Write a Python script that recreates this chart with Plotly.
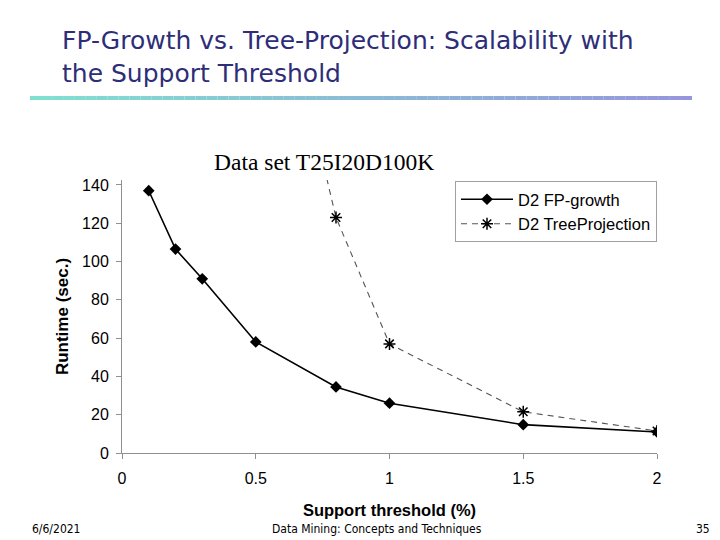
import plotly.graph_objects as go

# Data
fp_x = [0.1, 0.2, 0.3, 0.5, 0.8, 1.0, 1.5, 2.0]
fp_y = [137, 106.5, 91, 58, 34.5, 26, 14.8, 11]
tp_x = [0.5, 0.8, 1.0, 1.5, 2.0]
tp_y = [300, 123, 57, 21.5, 11.5]
x_ticks = [0, 0.5, 1, 1.5, 2]
x_tick_labels = ["0", "0.5", "1", "1.5", "2"]
y_ticks = [0, 20, 40, 60, 80, 100, 120, 140]

# page body offset compensation
OX, OY = 8, 8
W, H = 720 - OX, 540 - OY
# plot area in reference pixels
PL, PR, PT, PB = 122, 657, 180, 453
L, R, T, B = PL - OX, W - (PR - OX), PT - OY, H - (PB - OY)
PW, PH = PR - PL, PB - PT


def px(x):
    return (x - PL) / PW


def py(y):
    return (PB - y) / PH


fig = go.Figure()
fig.add_trace(go.Scatter(
    x=fp_x, y=fp_y, mode="lines+markers", name="D2 FP-growth",
    line=dict(color="black", width=1.6),
    marker=dict(symbol="diamond", size=9, color="black"),
))
fig.add_trace(go.Scatter(
    x=tp_x, y=tp_y, mode="lines+markers", name="D2 TreeProjection",
    line=dict(color="#555555", width=1.1, dash="6px,5px"),
    marker=dict(symbol="asterisk-open", size=10, color="black", line=dict(color="black", width=1.5)),
))

axis_title_font = dict(family="Liberation Sans, Arial", size=16.5, color="black")
fig.update_layout(
    width=W, height=H,
    margin=dict(l=L, r=R, t=T, b=B, pad=0),
    paper_bgcolor="white", plot_bgcolor="white",
    showlegend=True,
    legend=dict(
        x=px(455), y=py(181),
        xanchor="left", yanchor="top",
        bordercolor="#a0a0a0", borderwidth=1, bgcolor="white",
        font=dict(family="Liberation Sans, Arial", size=16.5, color="black"),
        itemwidth=52,
    ),
    xaxis=dict(
        range=[0, 2], tickvals=x_ticks, ticktext=x_tick_labels,
        showgrid=False, zeroline=False, showline=True, linecolor="#909090", linewidth=1,
        ticks="outside", ticklen=5, tickcolor="#909090", ticklabelstandoff=6,
        tickfont=dict(family="Liberation Sans, Arial", size=16, color="black"),
        title=dict(text="<b>Support threshold (%)</b>", standoff=18, font=axis_title_font),
    ),
    yaxis=dict(
        range=[0, 142.6], tickvals=y_ticks,
        showgrid=False, zeroline=False, showline=True, linecolor="#909090", linewidth=1,
        ticks="outside", ticklen=5, tickcolor="#909090", ticklabelstandoff=4,
        tickfont=dict(family="Liberation Sans, Arial", size=16, color="black"),
        title=dict(text="<b>Runtime (sec.)</b>", standoff=9, font=dict(axis_title_font, size=17)),
    ),
)

title_font = dict(family="DejaVu Sans, Noto Sans", size=25, color="#2e2e78")
fig.add_annotation(text="FP-Growth vs. Tree-Projection: Scalability with", xref="paper", yref="paper",
                   x=px(60), y=py(40), xanchor="left", yanchor="middle", showarrow=False, font=title_font)
fig.add_annotation(text="the Support Threshold", xref="paper", yref="paper",
                   x=px(60), y=py(73), xanchor="left", yanchor="middle", showarrow=False, font=title_font)

# gradient rule under the title
n = 60
x0, x1 = 30, 692
c0 = (128, 224, 208)
c1 = (150, 150, 220)
for i in range(n):
    t = i / (n - 1)
    col = "rgb(%d,%d,%d)" % tuple(round(a + (b - a) * t) for a, b in zip(c0, c1))
    xa = x0 + (x1 - x0) * i / n
    xb = x0 + (x1 - x0) * (i + 1) / n
    fig.add_shape(type="line", xref="paper", yref="paper",
                  x0=px(xa), x1=px(xb), y0=py(98), y1=py(98),
                  line=dict(color=col, width=4))

fig.add_annotation(text="Data set T25I20D100K", xref="paper", yref="paper",
                   x=px(324), y=py(162), xanchor="center", yanchor="middle", showarrow=False,
                   font=dict(family="Liberation Serif, Times New Roman", size=23.5, color="black"))

foot_font = dict(family="DejaVu Sans Condensed, Noto Sans", size=12, color="black")
for txt, xx, anc in [("6/6/2021", 30, "left"), ("Data Mining: Concepts and Techniques", 377, "center"), ("35", 712, "right")]:
    fig.add_annotation(text=txt, xref="paper", yref="paper",
                       x=px(xx), y=py(529), xanchor=anc, yanchor="middle", showarrow=False, font=foot_font)

fig.write_html("out.html")
